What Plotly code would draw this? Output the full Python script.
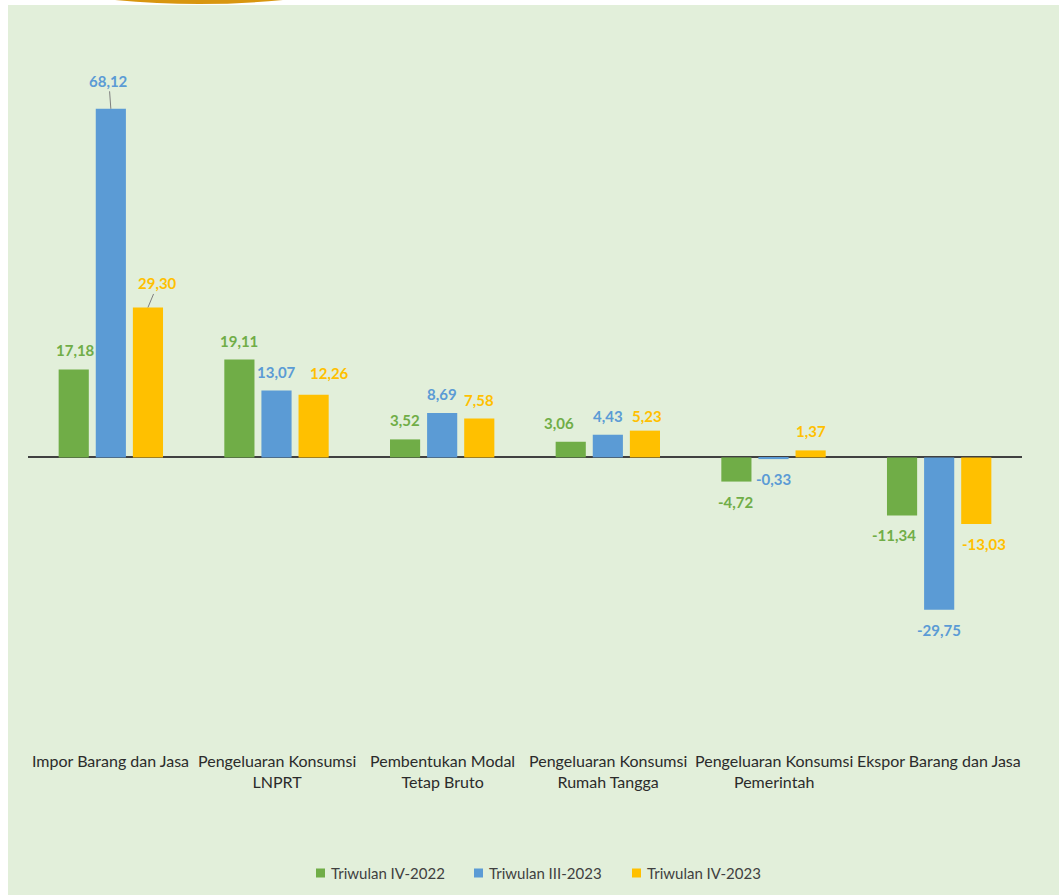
import plotly.graph_objects as go

# ---------------- data ----------------
categories = [
    "Impor Barang dan Jasa",
    "Pengeluaran Konsumsi<br>LNPRT",
    "Pembentukan Modal<br>Tetap Bruto",
    "Pengeluaran Konsumsi<br>Rumah Tangga",
    "Pengeluaran Konsumsi<br>Pemerintah",
    "Ekspor Barang dan Jasa",
]
series_names = ["Triwulan IV-2022", "Triwulan III-2023", "Triwulan IV-2023"]
tw4_2022 = [17.18, 19.11, 3.52, 3.06, -4.72, -11.34]
tw3_2023 = [68.12, 13.07, 8.69, 4.43, -0.33, -29.75]
tw4_2023 = [29.30, 12.26, 7.58, 5.23, 1.37, -13.03]
series_values = [tw4_2022, tw3_2023, tw4_2023]

# ---------------- styles ----------------
colors = ["#70AD47", "#5B9BD5", "#FFC000"]
FONT = "Lato"
W_PX, H_PX = 1059, 895
M_L, M_R, M_T, M_B = 28, 37, 48, 151
PLOT_W = W_PX - M_L - M_R
PLOT_H = H_PX - M_T - M_B

bar_w = 0.182
bar_step = 0.224

# label tweaks (pixel shifts) keyed by (series index, category index)
label_dx = {(0, 3): -12, (2, 1): 16, (0, 5): -8, (2, 5): 8, (2, 3): 2, (0, 0): 2}
label_dy = {(2, 3): 15, (2, 1): 22}
leader = {(1, 0): (-2, -28), (2, 0): (10, -24)}

# legend item positions (pixels)
legend_x_px = [316, 474, 632]
legend_y_px = 873


def px_to_paper_x(px):
    return (px - M_L) / PLOT_W


def px_to_paper_y(py):
    return (H_PX - M_B - py) / PLOT_H


fig = go.Figure()
idx = list(range(len(categories)))
for j, (name, vals) in enumerate(zip(series_names, series_values)):
    fig.add_trace(go.Bar(
        x=idx, y=vals, name=name,
        width=bar_w, offset=(j - 1) * bar_step - bar_w / 2,
        marker=dict(color=colors[j], line=dict(width=0)),
        hoverinfo="y+name", showlegend=False,
    ))

annotations = []
for j, vals in enumerate(series_values):
    for i, v in enumerate(vals):
        txt = f"{v:.2f}".replace(".", ",")
        xpos = i + (j - 1) * bar_step
        font = dict(family=FONT, size=15, color=colors[j], weight="bold")
        if (j, i) in leader:
            ax, ay = leader[(j, i)]
            annotations.append(dict(
                x=xpos, y=v, xref="x", yref="y", text=f"<b>{txt}</b>",
                showarrow=True, arrowhead=0, arrowwidth=1, arrowcolor="#7f7f7f",
                ax=ax, ay=ay, font=font, standoff=0,
            ))
        else:
            dy = label_dy.get((j, i), 19 if v >= 0 else 20)
            annotations.append(dict(
                x=xpos, y=v, xref="x", yref="y", text=f"<b>{txt}</b>",
                showarrow=False, yshift=dy if v >= 0 else -dy,
                xshift=label_dx.get((j, i), 0), font=font,
            ))

for i, c in enumerate(categories):
    annotations.append(dict(
        x=i, y=0, xref="x", yref="paper", text=c, showarrow=False,
        yanchor="top", yshift=-5,
        font=dict(family=FONT, size=16, color="#2b2b2b"),
    ))

shapes = [
    # white margins (top strip and left strip)
    dict(type="rect", xref="paper", yref="paper", layer="above",
         x0=px_to_paper_x(0), x1=px_to_paper_x(W_PX),
         y0=px_to_paper_y(5), y1=px_to_paper_y(-2),
         fillcolor="white", line=dict(width=0)),
    dict(type="rect", xref="paper", yref="paper", layer="above",
         x0=px_to_paper_x(-2), x1=px_to_paper_x(8),
         y0=px_to_paper_y(H_PX + 2), y1=px_to_paper_y(-2),
         fillcolor="white", line=dict(width=0)),
]
# decorative orange arc at the top
x0p, x1p, xm = px_to_paper_x(115), px_to_paper_x(283), px_to_paper_x(199)
y0p, ybp = px_to_paper_y(0), px_to_paper_y(8)
shapes.append(dict(
    type="path", xref="paper", yref="paper", layer="above",
    path=f"M {x0p},{y0p} Q {xm},{ybp} {x1p},{y0p} Z",
    fillcolor="#D8960F", line=dict(width=0),
))

# legend (square marker + label)
for j, name in enumerate(series_names):
    sx = legend_x_px[j]
    shapes.append(dict(
        type="rect", xref="paper", yref="paper", layer="above",
        x0=px_to_paper_x(sx), x1=px_to_paper_x(sx + 9),
        y0=px_to_paper_y(legend_y_px + 4.5), y1=px_to_paper_y(legend_y_px - 4.5),
        fillcolor=colors[j], line=dict(width=0),
    ))
    annotations.append(dict(
        x=px_to_paper_x(sx + 13), y=px_to_paper_y(legend_y_px),
        xref="paper", yref="paper", xanchor="left", yanchor="middle",
        text=name, showarrow=False,
        font=dict(family=FONT, size=15, color="#404040"),
    ))

fig.update_layout(
    width=W_PX, height=H_PX,
    margin=dict(l=M_L, r=M_R, t=M_T, b=M_B, autoexpand=False),
    paper_bgcolor="#E2EFDA", plot_bgcolor="#E2EFDA",
    font=dict(family=FONT, size=15, color="#333333"),
    xaxis=dict(range=[-0.5, 5.5], showticklabels=False, showgrid=False,
               zeroline=False, showline=False, ticks=""),
    yaxis=dict(range=[-56, 80], showticklabels=False, showgrid=False,
               zeroline=True, zerolinecolor="#404040", zerolinewidth=1.5,
               showline=False, ticks=""),
    barmode="overlay",
    showlegend=False,
    annotations=annotations,
    shapes=shapes,
)

fig.write_html("out.html")
